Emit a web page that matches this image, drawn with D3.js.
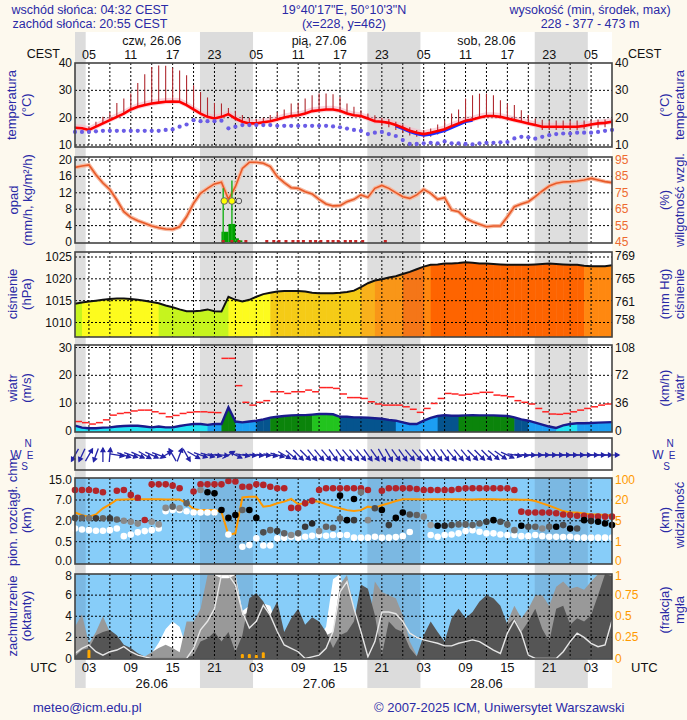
<!DOCTYPE html>
<html><head><meta charset="utf-8">
<script src="https://cdn.jsdelivr.net/npm/d3@7"></script>
<style>
body{margin:0;background:#fdf9ee}
svg{display:block}
text{font-family:"Liberation Sans",Arial,sans-serif}
</style></head>
<body><svg id="c" width="687" height="720"></svg>
<script>
// ---------------- DATA (hourly, hour 1 = 26.06 01 UTC) ----------------
const hours = d3.range(1, 79);
const sunriseUTC = 2.53, sunsetUTC = 18.92;
const dayLabelsTop = ["czw, 26.06", "pią, 27.06", "sob, 28.06"];
const dayLabelsBottom = ["26.06", "27.06", "28.06"];
const dayLabelHours = [12, 36, 60];
const tickHours = [3, 9, 15, 21, 27, 33, 39, 45, 51, 57, 63, 69, 75];

const temperature = [16.3,16.1,15.5,16.7,17.9,19.1,20.3,21.5,23.0,24.0,
 24.6,25.2,25.5,25.8,25.9,25.8,24.6,23.0,21.5,20.3,
 19.7,20.3,21.3,19.7,18.5,17.9,17.9,18.3,18.7,19.3,
 20.1,20.6,20.9,21.5,22.4,22.7,23.0,23.0,22.5,21.5,
 20.9,20.6,19.7,18.7,18.5,18.1,17.3,16.3,15.2,14.5,
 14.0,14.5,15.1,15.8,16.9,17.9,18.9,19.3,20.1,20.6,
 20.6,20.3,19.7,19.1,18.5,17.9,17.3,16.7,16.7,16.7,
 16.7,16.7,16.7,17.0,17.5,17.9,18.1,18.5];
const temperature2 = [null,null,null,null,null,null,null,null,null,null,
 null,null,null,null,null,null,null,null,null,null,
 null,null,null,null,null,null,null,null,null,null,
 null,null,null,null,null,null,null,null,null,null,
 null,null,null,null,null,null,17.0,16.0,14.9,14.1,
 13.6,14.0,14.6,15.3,16.4,17.5,18.6,19.1,null,null,
 null,null,null,null,null,null,null,null,null,null,
 null,null,null,null,null,null,null,null];
const tempMax = [16.8,16.5,16.8,18.5,20.3,22,25.4,27,28.8,32.7,
 35.9,38.5,39.1,39,38.3,37.3,35.5,31.9,29.4,27.4,
 25.4,25.2,23.5,22.5,21,20,19.5,20,21,22,
 23,25.2,25.5,27,28.2,28.8,28.8,28.6,27.6,25.2,
 24,22.7,21.5,20.9,20,19.5,18.5,17.5,16.5,15.5,
 15.5,16,17.5,19,21.5,23,27,28.2,28.8,28.8,
 28.2,26.4,25.2,24.6,22.7,21,19.7,19.2,19,19,
 19,19,19,19,19.2,19.3,19.3,19.5];
const tempMin = [null,null,null,null,null,null,null,null,null,null,
 null,null,null,null,null,null,null,null,null,null,
 null,null,null,null,null,null,null,null,null,null,
 null,null,null,null,null,null,null,null,null,null,
 null,null,null,null,17.0,16.5,15.5,14.5,13.5,13.0,
 12.5,13.0,13.8,14.5,null,null,null,null,null,null,
 null,null,null,null,null,null,null,15.5,15.5,15.5,
 15.5,15.5,15.5,15.8,16.0,16.3,16.5,16.8];
const dewPoint = [14.8,14.8,14.8,15.0,15.2,15.2,15.2,15.2,15.2,15.2,
 15.2,15.2,15.2,15.5,15.7,16.7,17.5,19.1,18.7,18.7,
 18.7,18.9,16.1,16.7,17.3,17.3,17.3,17.3,17.3,17.0,
 17.0,17.0,17.0,17.0,17.0,17.0,17.0,16.8,16.5,16.0,
 15.5,15.2,14.0,14.5,14.8,14.0,13.3,11.8,10.4,10.4,
 10.6,10.8,10.6,11.3,10.6,10.6,10.4,10.2,10.6,10.8,
 10.8,11.0,11.1,12.4,13.0,12.8,12.3,13.0,13.6,14.0,
 14.2,14.2,14.5,14.5,14.5,14.8,15.2,15.5];

const humidity = [90.5,91.3,92,86,81,77,70.6,63.5,60,58,
 56.4,54.8,53.7,52.9,52.7,54.3,60.4,68.6,74.7,77.7,
 80.4,81.5,71,78.7,89.9,93.6,93.6,93,91,84.8,
 81.2,78.1,77.7,75.7,74.3,71,68.2,67,67.2,69.6,
 71,73.7,72.2,77.7,79.5,77.7,75.1,72.6,71.6,73.7,
 77.1,74.7,71,72,64.5,63.5,59.4,57.4,55.8,54.3,
 54.8,54.8,60.4,66.5,68.2,69.6,72.6,76.1,79.1,80.8,
 81.6,81.8,82.2,82.8,83.8,82.8,81.8,81.2];
const precipStart = [22, 23, 24, 24.5];
const precipEnd = [23, 24, 24.5, 25];
const precipValue = [2.5, 4.4, 0.9, 0.4];
const precipMaxHour = [22.25, 23.5];
const precipMax = [13.1, 15.0];
const stormHours = [22.4, 23.5];
const stormOpenHours = [24.5];
const stormLevel = 10;
const wetHours = [22.25,23.5,24.5,25.5,28.5,29.5,30.25,31.25,32.25,33,33.75,34.75,35.5,36.25,37.25,38,38.75,39.75,40.5,41.25,42.25,45.5];

const pressure = [1014.3,1014.6,1014.8,1015.0,1015.2,1015.4,1015.5,1015.5,1015.4,1015.2,
 1015.0,1014.7,1014.4,1013.9,1013.5,1013.0,1012.6,1012.6,1012.7,1013.0,
 1012.6,1012.5,1015.9,1015.2,1014.8,1015.2,1015.9,1016.5,1016.8,1017.1,
 1017.2,1017.2,1017.2,1017.1,1016.8,1016.7,1016.7,1016.7,1016.8,1017.0,
 1017.3,1018.1,1019.0,1019.6,1019.9,1020.3,1020.6,1021.1,1021.6,1022.2,
 1022.8,1023.2,1023.3,1023.5,1023.5,1023.6,1023.8,1023.7,1023.5,1023.5,
 1023.4,1023.3,1023.2,1023.2,1023.2,1023.2,1023.3,1023.4,1023.5,1023.4,
 1023.3,1023.2,1023.2,1023.0,1022.9,1022.9,1022.9,1023.1];
const mmHgTicks = [758, 761, 765, 769];

const windGust = [3.4,3.0,2.5,3.0,4.0,5.7,6.3,6.6,7.2,7.5,
 7.5,6.9,6.3,5.1,5.6,6.3,6.7,6.9,6.9,6.7,
 6.6,26.1,26.1,16.3,10.3,9.3,10.3,10.9,14.1,14.1,
 13.5,14.1,14.1,14.7,14.1,15.6,15.6,15.3,13.3,12.0,
 12.0,11.7,10.5,9.7,9.3,9.3,9.3,8.7,7.8,6.7,
 8.1,9.9,11.7,13.5,13.3,12.9,13.2,13.5,13.9,13.9,
 12.9,12.7,12.3,10.9,10.3,9.7,8.1,6.9,6.1,6.0,
 6.3,6.9,7.5,8.1,8.7,9.3,9.7];
const windSpeed = [1.9,1.2,1.0,1.0,1.2,1.3,1.6,1.8,1.9,1.9,
 1.6,1.3,1.6,1.3,1.3,1.8,2.2,2.5,2.5,2.2,
 2.5,2.5,8.5,3.4,3.1,3.4,3.7,4.2,4.8,5.1,
 5.4,5.6,5.7,5.7,5.9,6.1,6.1,6.0,5.1,5.1,
 4.9,4.9,4.8,4.6,4.4,4.0,3.7,3.1,2.5,2.5,
 3.7,4.7,5.4,5.7,5.5,5.5,5.6,5.7,5.6,5.6,
 5.6,5.5,5.4,4.9,4.2,3.7,3.0,2.3,1.6,1.1,
 2.0,2.5,2.8,2.8,2.9,3.0,3.1,3.2];
const windClass = "cccccccccccccccccccbbggbbbnnggggggllllnnnnnnnnbbbbbbnnnggggggggnnbbbbcccbbbbbcc".slice(0,78);
const windDir = [210,205,30,200,0,5,100,110,110,115,
 120,115,110,60,330,20,150,120,110,105,
 100,95,60,115,100,95,95,95,100,105,
 120,130,135,135,140,140,140,145,145,140,
 140,140,145,145,150,150,145,145,140,140,
 140,145,145,145,140,140,140,135,135,135,
 130,125,115,100,95,92,90,90,90,90,
 90,90,90,90,90,90,90,90];

const cloudTop = [10.9,10.9,10.9,10.6,10.0,null,10.6,10.9,9.0,7.9,
 2.2,13.1,13.1,13.1,12.6,11.6,null,10.3,13.1,13.1,
 13.1,13.1,14.4,14.2,12.2,12.2,13.1,12.9,12.2,11.6,
 11.6,5.1,5.1,6.2,6.8,10.9,11.6,11.6,11.6,11.6,
 11.6,11.6,10.9,null,10.6,11.6,11.6,11.6,11.6,11.3,
 10.9,10.9,10.9,10.9,10.9,11.3,11.6,11.6,11.6,11.6,
 11.6,11.6,11.6,10.9,4.2,4.0,4.0,4.0,4.0,3.8,
 3.5,3.4,3.2,3.2,3.0,3.0,3.0,3.0];
const cloudLayer = [2.7,2.7,2.6,2.6,2.6,2.6,2.3,2.0,1.93,1.8,
 null,1.93,1.74,5.1,5.4,5.0,6.2,null,10.9,10.0,
 9.6,4.6,2.7,3.4,4.6,4.6,2.7,1.17,1.33,1.26,
 1.1,0.98,1.1,1.57,1.81,1.26,1.57,1.5,2.56,2.16,
 2.16,10.0,2.16,5.0,4.6,1.69,2.7,4.0,3.5,3.4,
 3.0,1.69,1.64,1.64,1.69,1.74,1.74,1.69,1.81,1.93,
 2.16,1.93,1.74,1.33,1.64,1.57,1.57,1.45,1.57,1.57,
 1.69,1.45,1.45,2.16,1.98,1.93,1.81,1.69];
const cloudLayerShade = [0.4,0.5,0.6,0.3,0.5,0.3,0.5,0.7,0.7,0.7,
 0,0.75,0.75,0.7,0.5,0.75,0.5,0,0.7,0,
 0,0,0,0,0.5,0,0,0.4,0.5,0.3,
 0.5,0.7,0.5,0.3,0.2,0.7,0.5,0.5,0.5,0,
 0.3,0.6,0.7,0.4,0,0.3,0,0,0.4,0.5,
 0.7,0.8,0,0.2,0.4,0.5,0.5,0.5,0.5,0.3,
 0,0.4,0.5,0.6,0,0.4,0.5,0.7,0.5,0,
 0.4,0,0.4,0,0.2,0,0,0];
const cloudUpperHours = [39, 41];
const cloudUpper = [8.7, 7.4];
const cloudBase = [1.45,1.38,1.33,1.29,1.29,1.33,1.45,0.9,1.02,1.17,
 1.26,1.33,1.45,4.3,4.6,4.6,4.3,4.0,4.0,4.0,
 4.0,null,1.02,null,0.38,0.42,0.74,0.41,0.41,0.74,
 0.79,0.86,0.79,0.86,0.93,0.98,0.93,0.98,0.98,0.98,
 0.79,0.79,0.79,0.86,0.79,0.79,0.83,0.9,1.2,null,
 null,0.98,0.86,0.98,1.02,1.1,1.26,1.33,1.21,1.1,
 1.1,1.02,0.98,0.98,0.9,0.9,0.98,0.9,0.86,0.86,
 0.83,0.86,0.79,0.79,0.79,0.79,0.79,0.79];
const visibility = [11.0,9.1,7.9,9.6,14,16.9,21,22,23,23,
 23,23,23,22,22,22,17.6,13.5,12.7,12.7,
 12.7,11.5,2.3,2.6,30,33,33,15.2,15.9,17.6,
 18.8,23.9,16.9,17.6,19.3,18.8,16.9,15.2,14,12.7,
 12,12.7,15.2,14.4,16.2,17.6,19.3,23,23,23,
 22,23,23,23,23,23,22,22,23,23,
 23,22,22,22,21,21,19.3,17.6,15.9,14,
 12,11,11,10.3,9.6,9.6,9.1,8.6];

const cloudHigh = [0,0,0,0,0,0,0,0,0,0,
 0.2,0.5,1.5,2.8,3.5,3.0,1.0,0.3,2.5,3.5,
 8,8,8,8,4.5,5,4,5.2,5.0,3,
 2,1,0.5,0.5,0.5,2,3,7.5,8,5,
 2,0,0,0,0,0,0,0,0,0,
 0,0,0,0,0,0,0,0,0,0,
 0,0,0,0,0,0,0,0,0,0,
 0,0,0,0,0,0,0,0];
const cloudMid = [3.0,4.2,1.4,2.5,4.0,2.5,1.0,1.0,0.6,0.3,
 0.2,0.6,1.0,1.3,1.0,0.6,3.5,3.5,4.7,7.9,
 7.9,7.6,7.6,7.9,4.1,4.4,5.4,4.7,4.1,2.5,
 2.2,0.6,0.3,0.3,0.3,0.6,2.2,2.5,7.0,7.9,
 4.7,2.2,2.5,7.3,6.3,6.0,5.7,4.1,1.6,0.3,
 0.2,0.2,1.0,1.5,2.0,2.5,2.0,1.5,2.0,2.5,
 2.2,2.5,3.5,5.0,3.8,4.7,6.0,6.0,5.0,6.8,
 7.3,6.6,6.8,6.5,7.3,8,8,8];
const cloudLow = [0.2,0.8,1.0,2.2,2.5,2.7,2.2,1.3,1.0,0.5,
 0.2,0.1,0.1,0.1,0.1,0.1,0.1,0.3,1.6,1.9,
 2.5,1.6,2.5,0.6,2.2,5.7,6.2,5.4,4.1,5.4,
 2.5,3.8,4.7,3.2,3.9,3.5,2.5,1.0,2.2,2.5,
 3.5,7.0,6.6,4.1,0.3,3.5,2.8,2.5,1.0,0.2,
 2.2,3.5,2.5,1.6,3.8,4.7,3.8,4.4,5.4,6.0,
 5.7,5.0,3.2,3.8,2.5,3.5,4.7,2.8,1.6,4.7,
 5.0,3.2,3.8,3.5,4.1,6.0,8,7.8];
const fogLine = [0.06,0.12,0.16,0.08,0.04,0.08,0.1,0.14,0.08,0.04,
 0.02,0,0,0,0,0,0,0.12,0.34,0.44,
 0.59,0.99,0.99,0.87,0.55,0.36,0.44,0.63,0.51,0.32,
 0.16,0.12,0.08,0,0.02,0.04,0.12,0.32,0.79,0.91,
 0.59,0.32,0.02,0.2,0.55,0.55,0.53,0.44,0.3,0.25,
 0.22,0.2,0.18,0.15,0.15,0.18,0.2,0.22,0.2,0.15,
 0.1,0.06,0.3,0.45,0.3,0.04,0,0,0,0,
 0.08,0.2,0.3,0.25,0.18,0.14,0.16,0.45];
const fogHours = [3, 25, 26, 27, 28];
const fogFraction = [0.08, 0.03, 0.03, 0.02, 0.05];

// ---------------- SCALES ----------------
const X0 = 75, X1 = 612;
const x = d3.scaleLinear().domain([1, 78]).range([X0, X1]);
const yT = d3.scaleLinear().domain([10, 40]).range([145, 63]);
const yP = d3.scaleLinear().domain([0, 20]).range([242, 160]);
const yRH = d3.scaleLinear().domain([45, 95]).range([242, 160]);
const yPr = d3.scaleLinear().domain([1010, 1025]).range([322.5, 257]);
const yW = d3.scaleLinear().domain([0, 30]).range([431, 347.5]);
const yCB = d3.scaleLinear().domain([0, 0.5, 2, 7, 15]).range([563, 541.7, 520.8, 500, 479.5]);
const yVis = d3.scaleLinear().domain([0, 1, 5, 20, 100]).range([563, 541.7, 520.8, 500, 479.5]);
const yCC = d3.scaleLinear().domain([0, 8]).range([658.5, 574]);
const yFog = d3.scaleLinear().domain([0, 1]).range([658.5, 574]);

const NAVY = "#2a2aa6", ORANGE = "#ff9900", RHCOL = "#ee6a30";
const svg = d3.select("#c");

// nights from sunrise / sunset
const nights = [];
for (let d = -1; d < 4; d++) {
  const s = Math.max(d * 24 + sunsetUTC, 1), e = Math.min((d + 1) * 24 + sunriseUTC, 78);
  if (e > s) nights.push([s, e]);
}

svg.append("rect").attr("x", X0).attr("y", 32).attr("width", X1 - X0).attr("height", 656).attr("fill", "#fff");
svg.append("g").selectAll("rect").data(nights).join("rect")
  .attr("x", d => x(d[0])).attr("width", d => x(d[1]) - x(d[0]))
  .attr("y", 32).attr("height", 656).attr("fill", "#dcdcdc");

function panel(top, bot, day, night) {
  const g = svg.append("g");
  g.append("rect").attr("x", X0).attr("y", top).attr("width", X1 - X0).attr("height", bot - top).attr("fill", day);
  g.selectAll("rect.n").data(nights).join("rect").attr("class", "n")
    .attr("x", d => x(d[0])).attr("width", d => x(d[1]) - x(d[0]))
    .attr("y", top).attr("height", bot - top).attr("fill", night);
  return g;
}
function grid(top, bot, ys) {
  const g = svg.append("g").attr("stroke", "#000").attr("stroke-width", 1).attr("stroke-dasharray", "2,2");
  d3.range(3, 78, 3).forEach(h => g.append("line").attr("x1", x(h)).attr("x2", x(h)).attr("y1", top).attr("y2", bot));
  ys.forEach(y => g.append("line").attr("x1", X0).attr("x2", X1).attr("y1", y).attr("y2", y));
}
function frame(top, bot) {
  svg.append("rect").attr("x", X0).attr("y", top).attr("width", X1 - X0).attr("height", bot - top)
    .attr("fill", "none").attr("stroke", "#444").attr("stroke-width", 1.6);
}
function label(xp, yp, t, anchor, color, size) {
  return svg.append("text").attr("x", xp).attr("y", yp).attr("text-anchor", anchor || "start")
    .attr("dominant-baseline", "central").attr("fill", color || "#111").attr("font-size", size || 12).text(t);
}
function vtitle(cx, cy, t, color) {
  svg.append("text").attr("transform", `translate(${cx},${cy}) rotate(-90)`).attr("text-anchor", "middle")
    .attr("dominant-baseline", "central").attr("fill", color || NAVY).attr("font-size", 13).text(t);
}
const pts = arr => arr.map((v, i) => [hours[i], v]);

// ---------------- HEADER ----------------
label(90, 9.5, "wschód słońca: 04:32 CEST", "middle", NAVY, 12.5);
label(90, 23.5, "zachód słońca: 20:55 CEST", "middle", NAVY, 12.5);
label(344, 9.5, "19°40'17\"E, 50°10'3\"N", "middle", NAVY, 12.5);
label(344, 23.5, "(x=228, y=462)", "middle", NAVY, 12.5);
label(590, 9.5, "wysokość (min, środek, max)", "middle", NAVY, 12.5);
label(590, 23.5, "228 - 377 - 473 m", "middle", NAVY, 12.5);

dayLabelsTop.forEach((t, i) => label(x(dayLabelHours[i]), 40.5, t, "middle", "#111", 12.5));
tickHours.forEach(h => label(x(h), 54.5, String((h + 2) % 24).padStart(2, "0"), "middle", "#111", 12.5));
label(60, 53.5, "CEST", "end", "#111", 12.5);
label(628, 53.5, "CEST", "start", "#111", 12.5);

// ---------------- TEMPERATURE ----------------
panel(63, 147, "#fff", "#dedede");
grid(63, 147, [yT(20), yT(30), yT(10)]);
const band = d3.area().x(d => x(d[0])).y0(d => yT(d[1] - 0.9)).y1(d => yT(d[1] + 1.4));
svg.append("path").attr("d", band(pts(temperature))).attr("fill", "#f6b9c6").attr("opacity", 0.6);
svg.append("g").selectAll("line").data(hours).join("line")
  .attr("x1", h => x(h)).attr("x2", h => x(h))
  .attr("y1", (h, i) => yT(tempMin[i] != null ? tempMin[i] : temperature[i]))
  .attr("y2", (h, i) => yT(tempMax[i])).attr("stroke", "#b02a30").attr("stroke-width", 1.1);
const lineT = d3.line().defined(d => d[1] != null).x(d => x(d[0])).y(d => yT(d[1]));
svg.append("path").attr("d", lineT(pts(temperature2))).attr("fill", "none").attr("stroke", "#1c2cff").attr("stroke-width", 3.2);
svg.append("path").attr("d", lineT(pts(temperature))).attr("fill", "none").attr("stroke", "#ff0000").attr("stroke-width", 2.6);
svg.append("g").selectAll("circle").data(hours).join("circle")
  .attr("cx", h => x(h)).attr("cy", (h, i) => yT(dewPoint[i])).attr("r", 2.1).attr("fill", "#6a5ce6");
frame(63, 147);
[10, 20, 30, 40].forEach(v => { label(72, yT(v), v, "end"); label(615, yT(v), v, "start"); });
vtitle(11, 105, "temperatura"); vtitle(26, 105, "(°C)");
vtitle(664, 105, "(°C)"); vtitle(679, 105, "temperatura");

// ---------------- PRECIP / RH ----------------
panel(157, 243, "#fff", "#dedede");
grid(157, 243, [4, 8, 12, 16, 20].map(yP));
const lineRH = d3.line().x(d => x(d[0])).y(d => yRH(d[1]));
svg.append("path").attr("d", lineRH(pts(humidity))).attr("fill", "none").attr("stroke", "#f7b9a0").attr("stroke-width", 4);
svg.append("path").attr("d", lineRH(pts(humidity))).attr("fill", "none").attr("stroke", "#e85a28").attr("stroke-width", 1.6);
svg.append("g").selectAll("rect").data(precipValue).join("rect")
  .attr("x", (d, i) => x(precipStart[i])).attr("width", (d, i) => x(precipEnd[i]) - x(precipStart[i]))
  .attr("y", d => yP(d)).attr("height", d => yP(0) - yP(d)).attr("fill", "#00a000");
svg.append("g").selectAll("line").data(precipMax).join("line")
  .attr("x1", (d, i) => x(precipMaxHour[i])).attr("x2", (d, i) => x(precipMaxHour[i]))
  .attr("y1", yP(0)).attr("y2", d => yP(d)).attr("stroke", "#18b018").attr("stroke-width", 1.4);
svg.append("g").selectAll("circle").data(stormHours).join("circle")
  .attr("cx", h => x(h)).attr("cy", yP(stormLevel)).attr("r", 3.3).attr("fill", "#ffff00").attr("stroke", "#666").attr("stroke-width", 1);
svg.append("g").selectAll("circle").data(stormOpenHours).join("circle")
  .attr("cx", h => x(h)).attr("cy", yP(stormLevel)).attr("r", 2.8).attr("fill", "none").attr("stroke", "#555").attr("stroke-width", 1);
svg.append("g").selectAll("rect").data(wetHours).join("rect")
  .attr("x", h => x(h) - 1.5).attr("y", yP(0) - 2).attr("width", 3).attr("height", 3).attr("fill", "#c42424");
frame(157, 243);
[0, 4, 8, 12, 16, 20].forEach(v => label(72, yP(v), v, "end"));
[45, 55, 65, 75, 85, 95].forEach(v => label(615, yRH(v), v, "start", RHCOL));
vtitle(13, 200, "opad"); vtitle(27, 200, "(mm/h, kg/m²/h)");
vtitle(664, 200, "(%)"); vtitle(679, 200, "wilgotność wzgl.");

// ---------------- PRESSURE ----------------
panel(252, 337, "#fff", "#dedede");
const pColor = d3.scaleThreshold()
  .domain([1014.55, 1016.6, 1017.5, 1019.3, 1020.8, 1022.6, 1023.15])
  .range(["#c6f41e", "#fdfb1e", "#f5cb16", "#f9b11c", "#f99618", "#f47618", "#ff8810", "#fe6400"]);
svg.append("g").selectAll("path").data(hours.slice(0, 77)).join("path")
  .attr("d", (h, i) => `M${x(h)},337 L${x(h)},${yPr(pressure[i])} L${x(h + 1) + 0.5},${yPr(pressure[i + 1])} L${x(h + 1) + 0.5},337 Z`)
  .attr("fill", (h, i) => pColor(pressure[i]));
grid(252, 337, [1010, 1015, 1020, 1025].map(yPr));
svg.append("path").attr("d", d3.line().x(d => x(d[0])).y(d => yPr(d[1]))(pts(pressure)))
  .attr("fill", "none").attr("stroke", "#111").attr("stroke-width", 2);
frame(252, 337);
[1010, 1015, 1020, 1025].forEach(v => label(72, yPr(v), v, "end"));
mmHgTicks.forEach(v => label(615, yPr(v * 1.33322), v, "start"));
vtitle(12, 294, "ciśnienie"); vtitle(26, 294, "(hPa)");
vtitle(664, 294, "(mm Hg)"); vtitle(679, 294, "ciśnienie");

// ---------------- WIND ----------------
panel(345, 432, "#fff", "#dedede");
const wColor = { c: "#24e2f2", b: "#1c9ef2", n: "#05548e", g: "#0b840b", l: "#22c41e" };
svg.append("g").selectAll("path").data(hours.slice(0, 77)).join("path")
  .attr("d", (h, i) => `M${x(h)},432 L${x(h)},${yW(windSpeed[i])} L${x(h + 1) + 0.5},${yW(windSpeed[i + 1])} L${x(h + 1) + 0.5},432 Z`)
  .attr("fill", (h, i) => wColor[windClass[i]]);
grid(345, 432, [10, 20, 30].map(yW));
svg.append("path").attr("d", d3.line().x(d => x(d[0])).y(d => yW(d[1]))(pts(windSpeed)))
  .attr("fill", "none").attr("stroke", "#1a1a8c").attr("stroke-width", 2.4);
svg.append("g").selectAll("line").data(windGust).join("line")
  .attr("x1", (d, i) => x(hours[i])).attr("x2", (d, i) => x(hours[i] + 1))
  .attr("y1", d => yW(d)).attr("y2", d => yW(d)).attr("stroke", "#ff2424").attr("stroke-width", 1.5);
frame(345, 432);
[0, 10, 20, 30].forEach(v => label(72, yW(v), v, "end"));
[0, 36, 72, 108].forEach(v => label(615, yW(v / 3.6), v, "start"));
vtitle(12, 388, "wiatr"); vtitle(26, 388, "(m/s)");
vtitle(664, 388, "(km/h)"); vtitle(679, 388, "wiatr");

// ---------------- WIND DIRECTION ----------------
panel(438, 470, "#fff", "#dedede");
const dirG = svg.append("g").attr("stroke", "#2424a8").attr("stroke-width", 1.3).attr("fill", "none");
hours.forEach((h, i) => {
  const a = windDir[i] * Math.PI / 180, Lh = 7, cx = x(h), cy = 455;
  const dx = Math.sin(a) * Lh, dy = -Math.cos(a) * Lh;
  const tx = cx + dx, ty = cy + dy;
  const hl = 4, s = 0.5;
  const b1x = tx - hl * Math.sin(a - s), b1y = ty + hl * Math.cos(a - s);
  const b2x = tx - hl * Math.sin(a + s), b2y = ty + hl * Math.cos(a + s);
  dirG.append("path").attr("d", `M${cx - dx},${cy - dy}L${tx},${ty}`);
  dirG.append("path").attr("d", `M${b1x},${b1y}L${tx},${ty}L${b2x},${b2y}Z`).attr("fill", "#2424a8");
});
frame(438, 470);
function compass(cx) {
  label(cx - 8, 455, "W", "middle", NAVY, 12);
  label(cx + 4, 443.5, "N", "middle", NAVY, 10);
  label(cx + 6, 455, "E", "middle", NAVY, 10);
  label(cx + 0.5, 466, "S", "middle", NAVY, 10);
}
compass(24); compass(666);

// ---------------- CLOUD BASE / VISIBILITY ----------------
panel(478, 564, "#87cdf9", "#7bb8e2");
grid(478, 564, [0.5, 2, 7].map(yCB));
svg.append("path").attr("d", d3.line().x(d => x(d[0])).y(d => yVis(d[1]))(pts(visibility)))
  .attr("fill", "none").attr("stroke", ORANGE).attr("stroke-width", 2);
const dotR = 3.3;
svg.append("g").selectAll("circle").data(hours.filter((h, i) => cloudTop[i] != null)).join("circle")
  .attr("cx", h => x(h)).attr("cy", h => yCB(cloudTop[h - 1])).attr("r", dotR).attr("fill", "#b3252a");
svg.append("g").selectAll("circle").data(hours.filter((h, i) => cloudBase[i] != null)).join("circle")
  .attr("cx", h => x(h)).attr("cy", h => yCB(cloudBase[h - 1])).attr("r", dotR).attr("fill", "#ffffff");
svg.append("g").selectAll("circle").data(hours.filter((h, i) => cloudLayer[i] != null)).join("circle")
  .attr("cx", h => x(h)).attr("cy", h => yCB(cloudLayer[h - 1])).attr("r", dotR)
  .attr("fill", h => d3.interpolateRgb("#000000", "#c4c4c4")(cloudLayerShade[h - 1]));
svg.append("g").selectAll("circle").data(cloudUpper).join("circle")
  .attr("cx", (d, i) => x(cloudUpperHours[i])).attr("cy", d => yCB(d)).attr("r", dotR).attr("fill", "#000");
frame(478, 564);
[[0.5, "0.5"], [2, "2.0"], [7, "7.0"], [15, "15.0"]].forEach(d => label(72, yCB(d[0]), d[1], "end"));
label(72, yCB(0) - 2, "0.0", "end");
[1, 5, 20, 100].forEach(v => label(615, yVis(v), v, "start", ORANGE));
label(615, yVis(0) - 2, "0", "start", ORANGE);
vtitle(12, 510, "pion. rozciągł. chm."); vtitle(26, 520, "(km)");
vtitle(664, 520, "(km)"); vtitle(679, 515, "widzialność");

// ---------------- CLOUD COVER / FOG ----------------
panel(574, 659, "#87cdf9", "#7bb8e2");
const ccArea = d3.area().x(d => x(d[0])).y0(yCC(0)).y1(d => yCC(d[1]));
svg.append("path").attr("d", ccArea(pts(cloudHigh))).attr("fill", "#ffffff");
svg.append("path").attr("d", ccArea(pts(cloudMid))).attr("fill", "#999999");
svg.append("path").attr("d", ccArea(pts(cloudLow))).attr("fill", "#555555");
grid(574, 659, [2, 4, 6].map(yCC));
svg.append("path").attr("d", d3.line().x(d => x(d[0])).y(d => yFog(d[1]))(pts(fogLine)))
  .attr("fill", "none").attr("stroke", "#e6e6e6").attr("stroke-width", 1.4);
svg.append("g").selectAll("rect").data(fogFraction).join("rect")
  .attr("x", (d, i) => x(fogHours[i]) - 1.5).attr("width", 3)
  .attr("y", d => yFog(d) - 2).attr("height", d => yFog(0) - yFog(d) + 2).attr("rx", 1.2).attr("fill", "#ffa800");
frame(574, 659);
[0, 2, 4, 6].forEach(v => label(72, yCC(v), v, "end"));
label(72, yCC(8) + 2, 8, "end");
[[0, "0"], [0.25, "0.25"], [0.5, "0.5"], [0.75, "0.75"]].forEach(d => label(615, yFog(d[0]), d[1], "start", ORANGE));
label(615, yFog(1) + 2, "1", "start", ORANGE);
vtitle(12, 616, "zachmurzenie"); vtitle(26, 616, "(oktanty)");
vtitle(664, 610, "(frakcja)"); vtitle(679, 610, "mgła");

// ---------------- BOTTOM AXIS ----------------
tickHours.forEach(h => label(x(h), 667, String(h % 24).padStart(2, "0"), "middle", "#111", 13));
dayLabelsBottom.forEach((t, i) => label(x(dayLabelHours[i]), 683, t, "middle", "#111", 13));
label(57, 667, "UTC", "end", "#111", 13);
label(631, 667, "UTC", "start", "#111", 13);

// ---------------- FOOTER ----------------
label(33, 707, "meteo@icm.edu.pl", "start", NAVY, 13);
label(374, 707, "© 2007-2025 ICM, Uniwersytet Warszawski", "start", NAVY, 13);
</script></body></html>
